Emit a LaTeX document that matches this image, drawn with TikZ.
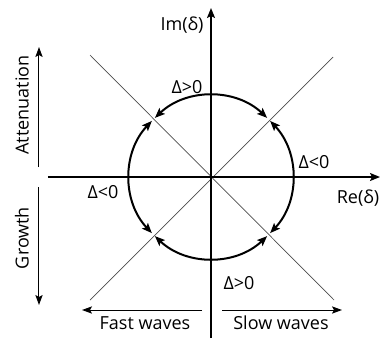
\documentclass[tikz,border=0pt]{standalone}
\usepackage{fontspec}
\setmainfont{Open Sans}
\usetikzlibrary{arrows.meta}
\tikzset{
  axisline/.style={line width=0.9pt, -{Stealth[length=5pt,width=4pt,inset=1pt]}},
  guideline/.style={line width=0.35pt, black!70},
  swing/.style={line width=1pt, {Stealth[length=5pt,width=4pt,inset=1pt]}-{Stealth[length=5pt,width=4pt,inset=1pt]}},
  sidearrow/.style={line width=0.5pt, -{Stealth[length=5pt,width=3.6pt,inset=1pt]}},
  lbl/.style={font=\fontsize{9}{10}\selectfont, inner sep=0pt}
}
\begin{document}
\begin{tikzpicture}[x=0.5pt, y=0.5pt]
  \useasboundingbox (-211,-161) rectangle (172,177);
  \def\rad{81.5}
  \coordinate (O) at (0,0);
  \coordinate (ImLow) at (0,-161);
  \coordinate (ImTop) at (0,169);
  \coordinate (ReLeft) at (-163,0);
  \coordinate (ReRight) at (169,0);
  \coordinate (NW) at (-121,122);
  \coordinate (SE) at (123,-123);
  \coordinate (NE) at (122,120);
  \coordinate (SW) at (-121,-123);

  % diagonals
  \draw[guideline] (NW) -- (SE);
  \draw[guideline] (SW) -- (NE);
  % axes
  \draw[axisline] (ImLow) -- (ImTop);
  \draw[axisline] (ReLeft) -- (ReRight);
  \node[lbl] (im) at (-29,152) {Im(δ)};
  \node[lbl] (re) at (147,-21) {Re(δ)};

  % circle arcs between the diagonals
  \foreach \a in {45,135,225,315}
    \draw[swing] (\a+1.5:\rad) arc[start angle=\a+1.5, end angle=\a+88.5, radius=\rad];
  \node[lbl] (dtop) at (-24,90) {Δ>0};
  \node[lbl] (dright) at (103,15) {Δ<0};
  \node[lbl] (dleft) at (-108,-15) {Δ<0};
  \node[lbl] (dbot) at (28,-106) {Δ>0};

  % side arrows
  \coordinate (AttLow) at (-172,10);
  \coordinate (AttTop) at (-172,130);
  \coordinate (GroTop) at (-172,-10);
  \coordinate (GroLow) at (-172,-128);
  \draw[sidearrow] (AttLow) -- (AttTop);
  \draw[sidearrow] (GroTop) -- (GroLow);
  \node[lbl, rotate=90] (att) at (-189,72) {Attenuation};
  \node[lbl, rotate=90] (gro) at (-189,-61) {Growth};

  % bottom arrows
  \coordinate (FastR) at (-9,-133);
  \coordinate (FastL) at (-129,-133);
  \coordinate (SlowL) at (11,-133);
  \coordinate (SlowR) at (131,-133);
  \draw[sidearrow] (FastR) -- (FastL);
  \draw[sidearrow] (SlowL) -- (SlowR);
  \node[lbl] (fast) at (-66,-146) {Fast waves};
  \node[lbl] (slow) at (70,-146) {Slow waves};
\end{tikzpicture}
\end{document}
